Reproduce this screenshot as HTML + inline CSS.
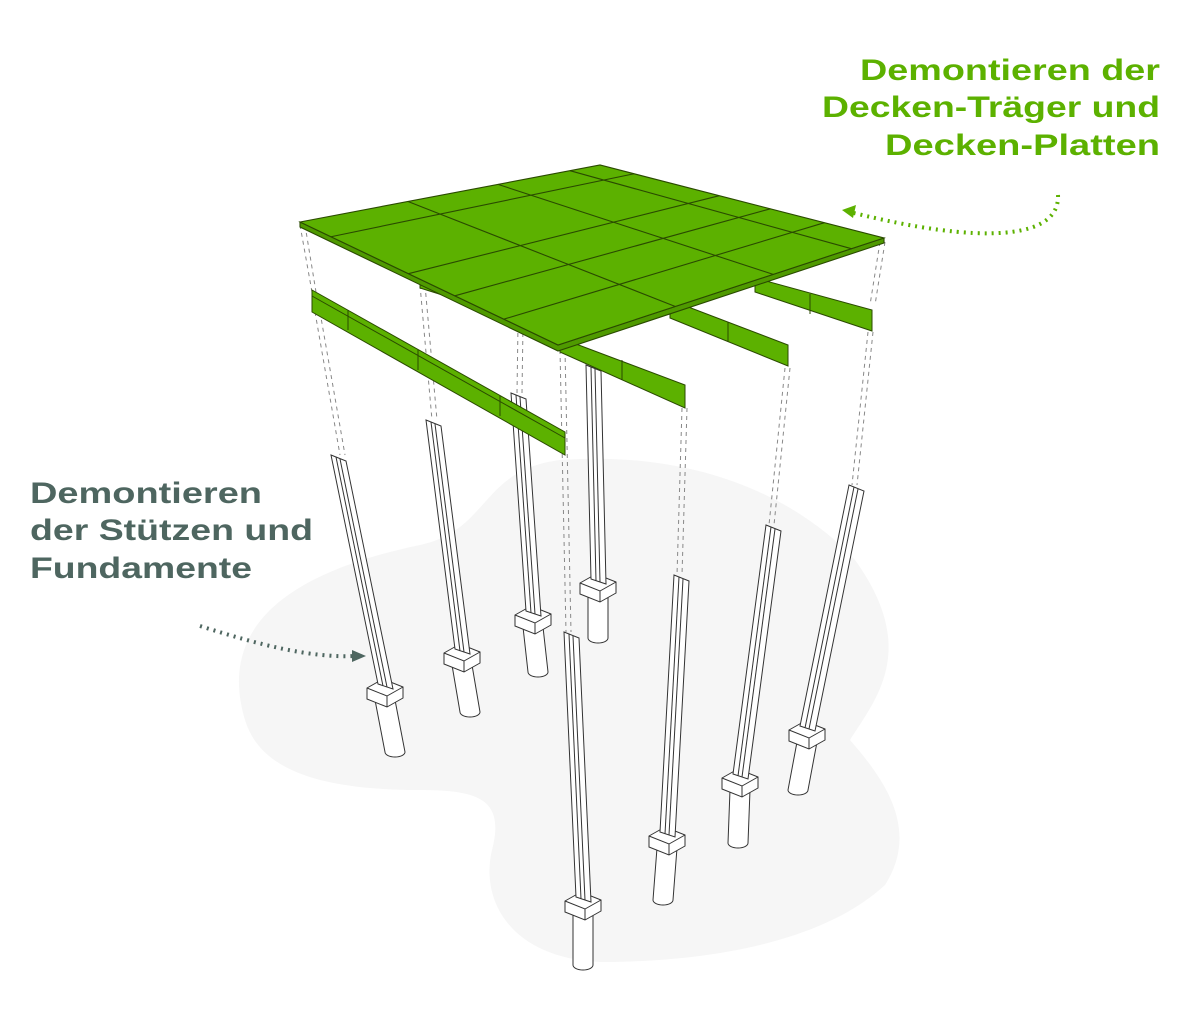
<!DOCTYPE html>
<html><head><meta charset="utf-8"><style>
html,body{margin:0;padding:0;background:#fff;}
svg{display:block}
</style></head><body>
<svg id="s" width="1200" height="1027" viewBox="0 0 1200 1027" xmlns="http://www.w3.org/2000/svg">
<path d="M245,720 C215,620 300,570 420,545 C490,530 480,470 560,460 C700,450 800,500 855,560 C920,650 875,700 850,740 C885,780 920,830 885,885 C820,945 700,962 600,962 C510,958 480,900 492,850 C505,800 480,790 420,790 C320,790 260,770 245,720 Z" fill="#f6f6f6"/>
<g stroke="#888" stroke-width="1" stroke-dasharray="4,4" fill="none">
<line x1="300" y1="225" x2="312" y2="292"/><line x1="305" y1="225" x2="316" y2="292"/>
<line x1="315" y1="312" x2="340" y2="455"/><line x1="320" y1="312" x2="345" y2="455"/>
<line x1="420" y1="285" x2="432" y2="420"/><line x1="425" y1="285" x2="437" y2="420"/>
<line x1="518" y1="325" x2="517" y2="393"/><line x1="523" y1="325" x2="522" y2="393"/>
<line x1="560" y1="350" x2="566" y2="632"/><line x1="565" y1="350" x2="571" y2="632"/>
<line x1="682" y1="408" x2="677" y2="575"/><line x1="687" y1="408" x2="682" y2="575"/>
<line x1="785" y1="368" x2="769" y2="525"/><line x1="790" y1="368" x2="774" y2="525"/>
<line x1="868" y1="332" x2="852" y2="485"/><line x1="873" y1="332" x2="857" y2="485"/>
<line x1="880" y1="242" x2="870" y2="305"/><line x1="885" y1="242" x2="875" y2="305"/>
</g>
<g id="cols" fill="#fff" stroke="#333" stroke-width="1"></g>
<g fill="#5cb100" stroke="#2a4a00" stroke-width="1">
<polygon points="312,290 565,432 565,455 312,312"/>
<line x1="312" y1="296" x2="565" y2="438"/>
<line x1="348" y1="310" x2="348" y2="330"/><line x1="418" y1="350" x2="418" y2="370"/><line x1="500" y1="396" x2="500" y2="416"/>
<polygon points="560,338 685,385 685,408 560,352"/>
<line x1="622" y1="360" x2="622" y2="380"/>
<polygon points="670,300 788,345 788,366 670,318"/>
<line x1="728" y1="322" x2="728" y2="342"/>
<polygon points="755,278 872,310 872,331 755,292"/>
<line x1="810" y1="294" x2="810" y2="314"/>
<polygon points="420,280 458,292 458,300 420,288"/>
</g>
<g id="slab" stroke="#2a4a00" stroke-width="1.1"></g>
<path d="M1058,195 C1060,240 980,245 850,212" stroke="#5cb100" stroke-width="4" stroke-dasharray="2,5" fill="none"/>
<polygon points="842,210 856,205 853,218" fill="#5cb100"/>
<path d="M200,626 C260,645 310,658 355,656" stroke="#4e6660" stroke-width="4" stroke-dasharray="2,5" fill="none"/>
<polygon points="366,656 352,650 352,662" fill="#4e6660"/>
<g font-family="Liberation Sans, sans-serif" font-weight="bold" font-size="30" fill="#5cb100" text-anchor="end">
<text x="1160" y="80" textLength="300" lengthAdjust="spacingAndGlyphs">Demontieren der</text>
<text x="1160" y="117" textLength="338" lengthAdjust="spacingAndGlyphs">Decken-Träger und</text>
<text x="1160" y="155" textLength="275" lengthAdjust="spacingAndGlyphs">Decken-Platten</text>
</g>
<g font-family="Liberation Sans, sans-serif" font-weight="bold" font-size="30" fill="#4e6660">
<text x="30" y="503" textLength="232" lengthAdjust="spacingAndGlyphs">Demontieren</text>
<text x="30" y="540" textLength="283" lengthAdjust="spacingAndGlyphs">der Stützen und</text>
<text x="30" y="578" textLength="222" lengthAdjust="spacingAndGlyphs">Fundamente</text>
</g>
</svg>
<script>
var C=[[337,455,385,690,395,752],[432,420,462,655,470,712],[517,393,533,617,538,672],[592,365,598,585,598,638],[570,632,583,903,583,965],[680,575,667,838,663,900],[772,525,740,780,738,843],[855,485,807,732,798,790]];
var g=document.getElementById('cols'),h='';
C.sort(function(a,b){return a[3]-b[3]});
C.forEach(function(c){
var tx=c[0],ty=c[1],fx=c[2],fy=c[3],px=c[4],py=c[5];
h+='<path d="M'+(fx-10)+','+(fy+10)+' L'+(px-10)+','+py+' A10,5 0 0 0 '+(px+10)+','+py+' L'+(fx+10)+','+(fy+10)+'"/>';
h+='<polygon points="'+(fx-18)+','+(fy-2)+' '+(fx-2)+','+(fy-11)+' '+(fx+18)+','+(fy-3)+' '+(fx+18)+','+(fy+8)+' '+(fx+2)+','+(fy+17)+' '+(fx-18)+','+(fy+9)+'"/>';
h+='<polyline fill="none" points="'+(fx-18)+','+(fy-2)+' '+(fx+2)+','+(fy+6)+' '+(fx+18)+','+(fy-3)+'"/><line x1="'+(fx+2)+'" y1="'+(fy+6)+'" x2="'+(fx+2)+'" y2="'+(fy+17)+'"/>';
h+='<polygon points="'+(tx-6)+','+ty+' '+(tx+9)+','+(ty+6)+' '+(fx+8)+','+(fy-1)+' '+(fx-7)+','+(fy-6)+'"/>';
h+='<line x1="'+(tx-1)+'" y1="'+(ty+2)+'" x2="'+(fx-2)+'" y2="'+(fy-4)+'"/><line x1="'+(tx+3)+'" y1="'+(ty+4)+'" x2="'+(fx+2)+'" y2="'+(fy-3)+'"/>';
});
g.innerHTML=h;
var L=[300,222],T=[600,165],R=[884,238],B=[558,345];
function P(s,t){return [L[0]+s*(T[0]-L[0])+t*(B[0]-L[0])+s*t*(R[0]-T[0]-B[0]+L[0]),L[1]+s*(T[1]-L[1])+t*(B[1]-L[1])+s*t*(R[1]-T[1]-B[1]+L[1])];}
function pt(p,dy){return p[0]+','+(p[1]+(dy||0));}
var sh='';
sh+='<polygon fill="#4f9a00" points="'+pt(L)+' '+pt(B)+' '+pt(R)+' '+pt(R,5)+' '+pt(B,6)+' '+pt(L,5)+'"/>';
sh+='<polygon fill="#5cb100" points="'+pt(L)+' '+pt(T)+' '+pt(R)+' '+pt(B)+'"/>';
[0.12,0.42,0.6,0.79].forEach(function(t){sh+='<line x1="'+P(0,t)[0]+'" y1="'+P(0,t)[1]+'" x2="'+P(1,t)[0]+'" y2="'+P(1,t)[1]+'"/>';});
[0.36,0.66,0.9].forEach(function(s){sh+='<line x1="'+P(s,0)[0]+'" y1="'+P(s,0)[1]+'" x2="'+P(s,1)[0]+'" y2="'+P(s,1)[1]+'"/>';});
document.getElementById('slab').innerHTML=sh;
</script>
</body></html>
